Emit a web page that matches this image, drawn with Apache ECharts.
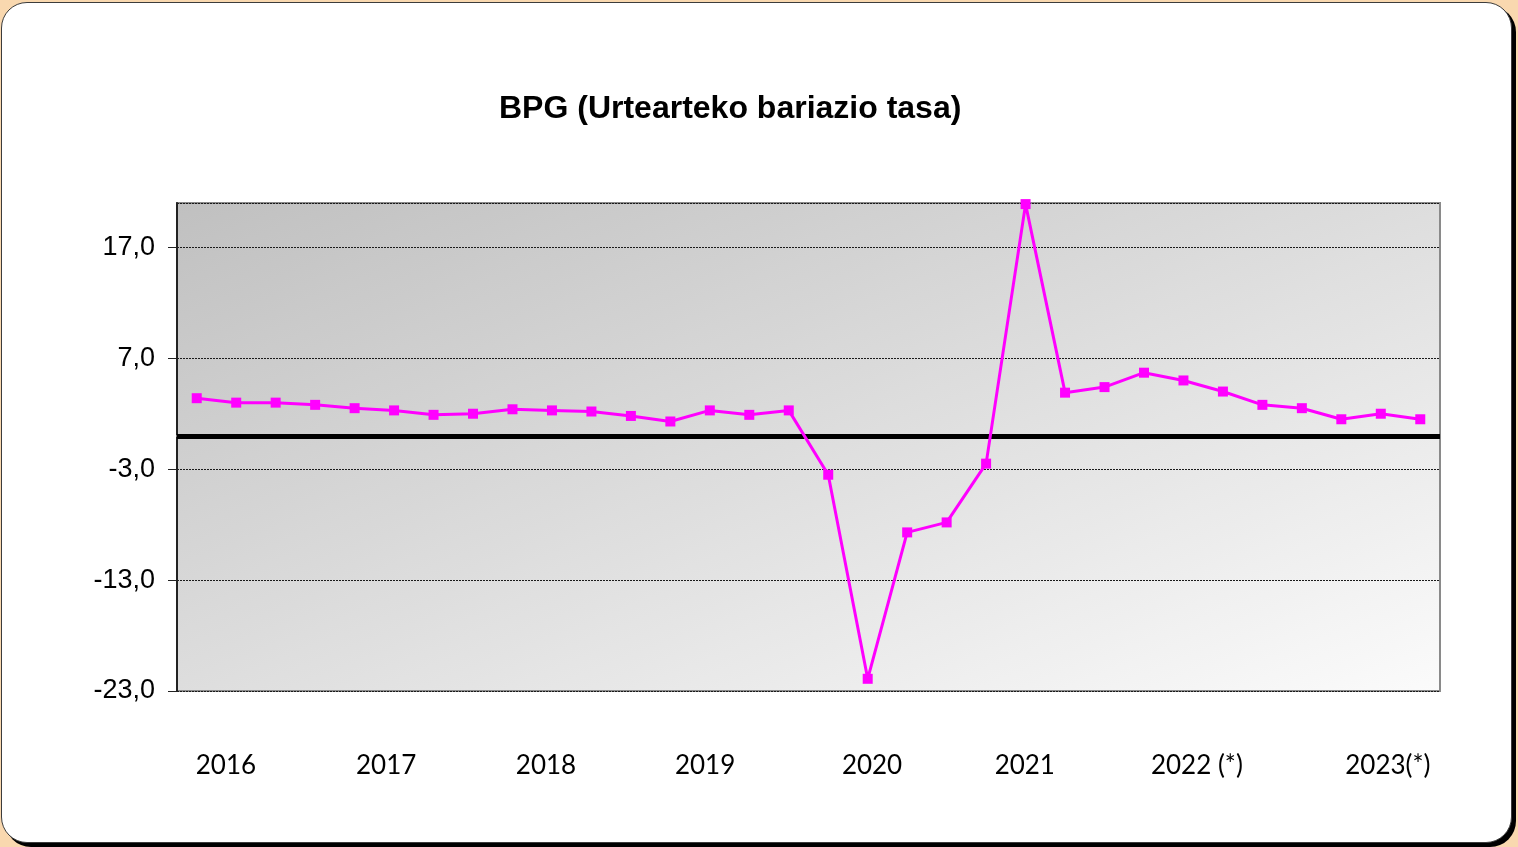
<!DOCTYPE html>
<html>
<head>
<meta charset="utf-8">
<script src="https://cdn.jsdelivr.net/npm/echarts@6.0.0/dist/echarts.min.js"></script>
<style>
  html, body { margin: 0; padding: 0; }
  body { width: 1518px; height: 847px; overflow: hidden; position: relative; background: #F9D8AF; }
  #frame { position: absolute; left: 1px; top: 2px; width: 1509px; height: 839px;
           border: 1.5px solid #3c3c3c; border-radius: 26px; background: #ffffff;
           box-shadow: 4px 4px 0 #000; }
  #chart { position: absolute; left: 0; top: 0; width: 1518px; height: 847px; }
</style>
</head>
<body>
<div id="frame"></div>
<div id="chart"></div>
<script>
// Quarters 2016 T1 .. 2023 T4
const quarters = [
  '2016-T1','2016-T2','2016-T3','2016-T4',
  '2017-T1','2017-T2','2017-T3','2017-T4',
  '2018-T1','2018-T2','2018-T3','2018-T4',
  '2019-T1','2019-T2','2019-T3','2019-T4',
  '2020-T1','2020-T2','2020-T3','2020-T4',
  '2021-T1','2021-T2','2021-T3','2021-T4',
  '2022-T1','2022-T2','2022-T3','2022-T4',
  '2023-T1','2023-T2','2023-T3','2023-T4'
];
// BPG year-on-year growth rate (%)
const bpgValues = [
  3.4, 3.0, 3.0, 2.8,
  2.5, 2.3, 1.9, 2.0,
  2.4, 2.3, 2.2, 1.8,
  1.3, 2.3, 1.9, 2.3,
  -3.5, -21.9, -8.7, -7.8,
  -2.5, 20.9, 3.9, 4.4,
  5.7, 5.0, 4.0, 2.8,
  2.5, 1.5, 2.0, 1.5
];
// Year tick labels and where they sit along the quarter scale (0..32)
const yearLabels = ['2016', '2017', '2018', '2019', '2020', '2021', '2022 (*)', '2023(*)'];
const yearLabelAt = [1.24, 5.30, 9.35, 13.38, 17.61, 21.48, 25.84, 30.68];
// Y axis scale
const yMin = -23, yMax = 21, yStep = 10;
const titleText = 'BPG (Urtearteko bariazio tasa)';

const chart = echarts.init(document.getElementById('chart'), null, { renderer: 'canvas' });

const option = {
  backgroundColor: 'transparent',
  animation: false,
  title: {
    text: titleText,
    left: 499,
    top: 93,
    padding: 0,
    textStyle: { fontFamily: 'Liberation Sans, Arial, sans-serif', fontWeight: 'bold', fontSize: 32, color: '#000' }
  },
  grid: {
    left: 177, right: 78, top: 203, bottom: 156,
    outerBoundsMode: 'none',
    containLabel: false,
    show: true,
    borderColor: '#8a8a8a',
    borderWidth: 2,
    backgroundColor: {
      type: 'linear', x: 0, y: 0, x2: 0.26, y2: 1.74,
      colorStops: [
        { offset: 0, color: '#c0c0c0' },
        { offset: 1, color: '#fbfbfb' }
      ]
    }
  },
  xAxis: [
    {
      type: 'category',
      data: quarters,
      boundaryGap: true,
      position: 'bottom',
      axisLine: { show: true, lineStyle: { color: '#8a8a8a', width: 2 } },
      axisTick: { show: false },
      axisLabel: { show: false },
      splitLine: { show: false }
    },
    {
      type: 'value',
      min: 0, max: quarters.length,
      position: 'bottom',
      axisLine: { show: false },
      axisTick: { show: false },
      splitLine: { show: false },
      axisLabel: {
        show: true,
        customValues: yearLabelAt,
        margin: 62,
        fontFamily: 'Lato, "Open Sans", sans-serif',
        fontSize: 26,
        color: '#000',
        formatter: function (v) {
          for (let i = 0; i < yearLabelAt.length; i++) {
            if (Math.abs(yearLabelAt[i] - v) < 1e-6) return yearLabels[i];
          }
          return '';
        }
      }
    }
  ],
  yAxis: {
    type: 'value',
    min: yMin, max: yMax, interval: yStep,
    axisLine: { show: true, lineStyle: { color: '#222', width: 2 } },
    axisTick: { show: true, inside: false, length: 9, lineStyle: { color: '#222', width: 1 } },
    axisLabel: {
      show: true,
      showMaxLabel: false,
      margin: 22,
      fontFamily: 'Liberation Sans, Arial, sans-serif',
      fontSize: 27,
      color: '#000',
      formatter: function (v) { return v.toFixed(1).replace('.', ','); }
    },
    splitLine: { show: true, lineStyle: { color: '#1a1a1a', width: 1, type: [2, 1] } }
  },
  series: [
    {
      name: 'zero',
      type: 'line',
      data: [],
      z: 1,
      silent: true,
      markLine: {
        z: 1,
        silent: true,
        symbol: 'none',
        animation: false,
        label: { show: false },
        lineStyle: { color: '#000', width: 5, type: 'solid' },
        data: [{ yAxis: 0 }]
      }
    },
    {
      name: 'BPG',
      type: 'line',
      data: bpgValues,
      z: 3,
      clip: false,
      symbol: 'rect',
      symbolSize: 10,
      lineStyle: { color: '#ff00ff', width: 3 },
      itemStyle: { color: '#ff00ff' }
    }
  ]
};
chart.setOption(option);
</script>
</body>
</html>
